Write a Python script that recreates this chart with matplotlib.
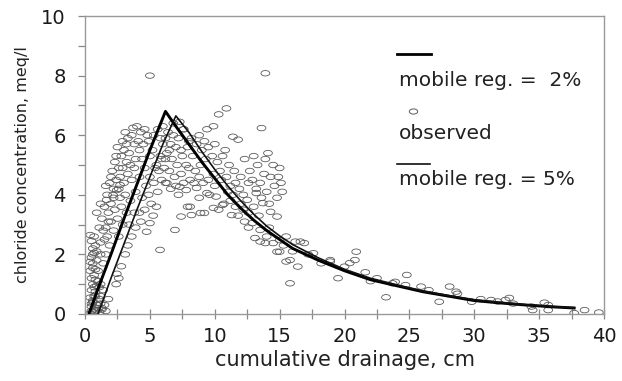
import matplotlib
matplotlib.use("Agg")
import matplotlib.pyplot as plt
from matplotlib.path import Path
from matplotlib.transforms import Affine2D
from matplotlib.ticker import MultipleLocator

# ---------------- data ----------------
# model curves
x_mob2 = [0.3, 1, 2, 3, 4, 5, 6.2, 7, 8, 9, 10, 11, 12, 13, 14, 15, 16, 18, 20,
          22, 24, 26, 28, 30, 32, 34, 36, 37.7]
y_mob2 = [0, 0.85, 2.0, 3.2, 4.35, 5.5, 6.8, 6.3, 5.7, 5.1, 4.55, 4.0, 3.55, 3.15,
          2.8, 2.5, 2.2, 1.8, 1.45, 1.15, 0.95, 0.75, 0.6, 0.45, 0.37, 0.3, 0.24, 0.2]

x_mob5 = [1.0, 2, 3, 4, 5, 6, 7.0, 8, 9, 10, 11, 12, 13, 14, 15, 16, 18, 20, 22,
          24, 26, 28, 30, 32, 34, 36, 37.7]
y_mob5 = [0, 1.2, 2.35, 3.5, 4.6, 5.7, 6.65, 6.1, 5.45, 4.85, 4.3, 3.8, 3.35, 2.95,
          2.62, 2.33, 1.88, 1.5, 1.2, 0.98, 0.78, 0.62, 0.48, 0.39, 0.31, 0.25, 0.21]

# observed points, grouped by region
obs_x_base = [0.4, 0.5, 0.6, 0.7, 0.5, 0.8, 0.6, 0.9, 0.4, 0.7, 1.0, 0.5, 0.8, 0.6, 0.9,
              1.1, 0.5, 0.7, 0.4, 0.8, 1.0, 0.6, 0.9, 0.5, 0.7, 1.2, 0.6, 0.8, 1.0, 0.5,
              0.7, 0.9, 0.4, 0.6, 1.1, 0.8, 0.5, 0.7, 0.9, 0.6, 1.3, 1.0, 0.8, 0.4, 0.6,
              1.1, 1.3, 1.2, 1.5, 1.4, 1.6, 1.2, 1.8]
obs_y_base = [0.02, 0.1, 0.05, 0.15, 0.25, 0.08, 0.4, 0.3, 0.55, 0.6, 0.2, 0.8, 0.75, 1.0, 0.95,
              0.5, 1.2, 1.3, 1.45, 1.5, 1.1, 1.7, 1.8, 1.9, 2.05, 0.35, 2.2, 2.3, 1.45, 2.45,
              2.6, 2.1, 2.65, 0.45, 0.9, 0.6, 0.35, 0.9, 0.12, 1.55, 0.15, 0.3, 1.15, 1.75, 2.0,
              0.05, 0.2, 0.6, 0.3, 0.8, 0.1, 1.0, 0.5]

obs_x_rise = [1.2, 1.4, 1.3, 1.6, 1.8, 1.5, 2.0, 1.7, 2.2, 1.9, 2.4, 2.1, 2.6, 2.3, 2.8, 2.5,
              3.0, 2.9, 3.3, 3.1, 3.6, 3.4, 3.8, 4.0, 4.3, 4.6, 4.1, 4.8, 3.7, 2.7, 2.2, 1.8,
              1.5, 1.1, 0.9, 1.2, 1.6, 2.0, 2.4, 2.9, 3.2, 3.5, 2.6, 2.3, 2.0, 1.7, 2.7, 3.0,
              3.3, 3.6, 3.9, 4.2, 4.5, 4.4, 3.8, 3.1, 2.8, 2.5, 2.2, 1.9, 1.6, 1.4, 1.2, 2.6,
              2.9, 3.2, 3.5, 3.9, 4.2, 4.6, 5.0, 4.9, 5.3, 5.6, 5.2, 2.45, 2.7, 2.16, 1.67, 3.2]
obs_y_rise = [2.4, 2.8, 3.2, 2.9, 3.4, 3.6, 3.7, 4.0, 4.2, 4.4, 4.5, 4.8, 4.9, 5.1, 5.3, 5.6,
              5.5, 5.8, 5.9, 6.1, 6.0, 5.4, 5.7, 6.3, 6.1, 6.2, 5.8, 6.0, 6.25, 4.6, 3.9, 3.1,
              2.5, 2.9, 3.4, 3.7, 4.3, 4.6, 5.3, 4.9, 5.1, 5.0, 4.2, 3.5, 3.1, 2.6, 3.9, 4.4,
              4.7, 4.5, 5.2, 5.5, 5.7, 5.2, 4.9, 4.0, 3.6, 3.2, 2.8, 2.3, 2.0, 1.7, 2.0, 2.6,
              3.0, 3.4, 3.8, 4.1, 4.6, 4.9, 5.3, 5.8, 6.0, 6.2, 5.5, 4.16, 4.33, 3.99, 3.83, 5.7]

obs_x_right = [2.4, 2.45, 2.6, 2.8, 3.1, 3.3, 3.6, 3.9, 4.3, 4.75, 5.0, 5.25, 5.1, 5.5, 5.6,
               5.9, 6.1, 4.6, 4.2, 4.9, 5.3, 5.7, 6.2, 6.5, 5.78, 6.93, 4.4, 4.7, 5.0, 5.4,
               5.8, 6.0, 3.4, 3.8]
obs_y_right = [1.0, 1.35, 1.2, 1.6, 2.0, 2.3, 2.6, 2.9, 3.1, 2.76, 3.05, 3.3, 3.7, 3.6, 4.1,
               4.5, 4.9, 3.5, 3.4, 4.0, 4.4, 4.8, 5.2, 5.5, 2.15, 2.82, 3.9, 4.3, 4.6, 4.9,
               5.3, 5.7, 3.0, 3.4]

obs_x_peak = [6.0, 6.4, 6.8, 7.2, 7.6, 7.0, 6.6, 6.3, 6.7, 7.1, 7.5, 7.9, 8.2, 8.6, 8.3, 7.8,
              7.4, 6.9, 6.5, 6.2, 6.6, 7.0, 7.3, 7.8, 8.6, 9.4, 10.1, 11.4, 8.1, 8.5, 8.9, 9.3,
              9.0, 9.5, 9.8, 10.2, 10.6, 10.4, 9.9, 9.5, 9.1, 8.8, 10.0, 10.5, 10.9, 11.2,
              11.6, 11.0, 11.9, 12.2, 12.5, 12.0, 11.6, 11.2, 10.7, 10.3, 9.9, 9.2, 8.2, 8.1,
              7.9, 8.9, 7.4, 10.6, 11.3, 6.3, 7.6, 8.0, 8.4, 7.2, 8.8, 9.6, 5.8, 6.2, 7.4, 8.0,
              8.8, 9.2, 10.0, 10.8, 11.1, 11.5, 12.0, 7.6, 9.4, 9.9, 10.3, 10.9, 11.4, 11.8,
              12.3, 12.7, 12.6, 6.8, 7.3, 5.5, 5.9]
obs_y_peak = [6.3, 6.1, 6.0, 5.9, 6.2, 5.6, 5.7, 5.4, 5.2, 5.0, 5.3, 5.6, 5.9, 5.7, 5.3, 5.0,
              4.7, 4.6, 4.8, 4.4, 4.2, 4.3, 4.27, 4.16, 4.23, 4.06, 3.94, 4.0, 4.5, 4.8, 5.0, 5.2,
              5.5, 5.6, 5.3, 5.1, 5.3, 4.8, 4.7, 4.5, 4.4, 4.6, 4.3, 4.5, 4.6, 4.3,
              4.4, 4.1, 4.2, 4.0, 3.83, 3.7, 3.6, 3.8, 3.7, 3.5, 3.56, 3.39, 3.32, 3.6,
              3.6, 3.39, 3.27, 3.66, 3.32, 4.4, 4.4, 4.9, 4.4, 4.0, 3.9, 4.0, 5.9, 5.9, 5.5, 5.8,
              6.0, 5.8, 5.7, 5.5, 5.0, 4.8, 4.6, 6.2, 6.2, 6.3, 6.7, 6.9, 5.95, 5.85,
              5.2, 4.8, 4.4, 6.4, 6.45, 5.0, 5.2]

obs_x_mid = [13.3, 13.9, 14.5, 15.0, 13.8, 14.3, 13.5, 14.6, 14.0, 15.1, 13.2, 14.8, 12.9,
             13.6, 14.2, 13.7, 14.3, 14.8, 13.2, 13.0, 12.6, 13.4, 12.2, 13.6, 13.9, 5.0,
             14.9, 13.0, 14.1, 15.2]
obs_y_mid = [5.0, 5.2, 5.0, 4.9, 4.7, 4.6, 4.4, 4.3, 4.1, 4.4, 4.2, 3.9, 4.5,
             3.9, 3.7, 3.72, 3.43, 3.27, 4.06, 3.6, 3.4, 3.3, 3.5, 6.24, 8.08, 8.0,
             4.6, 5.3, 5.4, 4.1]

obs_x_decay = [12.9, 13.5, 14.0, 14.5, 14.8, 15.0, 15.5, 16.6, 16.9, 15.8, 15.8, 13.1, 13.5,
               13.9, 15.5, 15.0, 16.2, 17.6, 16.4, 12.3, 11.8, 12.6, 14.2, 15.3, 16.0]
obs_y_decay = [3.05, 2.82, 2.6, 2.38, 2.09, 2.48, 2.6, 2.43, 2.38, 1.81, 1.03, 2.55, 2.43,
               2.38, 1.76, 2.09, 2.43, 2.04, 1.59, 3.1, 3.3, 2.9, 2.9, 2.3, 2.1]

obs_x_tail = [18.9, 18.9, 20.0, 20.4, 20.8, 20.9, 19.5, 22.5, 23.2, 23.9, 23.7, 24.8, 24.7,
              25.9, 27.3, 28.1, 28.6, 28.7, 29.8, 31.3, 31.8, 32.4, 32.7, 34.4, 34.5, 35.4,
              35.7, 35.7, 37.7, 38.5, 39.6, 21.6, 17.2, 18.2, 22.0, 26.5, 30.5, 33.0]
obs_y_tail = [1.81, 1.76, 1.59, 1.71, 1.81, 2.09, 1.2, 1.2, 0.56, 1.08, 1.03, 1.31, 0.97,
              0.92, 0.41, 0.92, 0.75, 0.68, 0.41, 0.47, 0.42, 0.47, 0.54, 0.25, 0.13, 0.38,
              0.3, 0.13, 0.03, 0.13, 0.05, 1.4, 2.0, 1.7, 1.1, 0.8, 0.5, 0.35]

x_ticks = [0, 5, 10, 15, 20, 25, 30, 35, 40]
y_ticks = [0, 2, 4, 6, 8, 10]
label_mob2 = "mobile reg. =  2%"
label_obs = "observed"
label_mob5 = "mobile reg. = 5%"

# ---------------- plot ----------------
obs_x = (obs_x_base + obs_x_rise + obs_x_right + obs_x_peak + obs_x_mid
         + obs_x_decay + obs_x_tail)
obs_y = (obs_y_base + obs_y_rise + obs_y_right + obs_y_peak + obs_y_mid
         + obs_y_decay + obs_y_tail)

ellipse = Path.unit_circle().transformed(Affine2D().scale(1.0, 0.62))

fig = plt.figure(figsize=(6.22, 3.81), dpi=100)
ax = fig.add_axes([0.1367, 0.1759, 0.8344, 0.782])

ax.scatter(obs_x, obs_y, marker=ellipse, s=40, facecolors="none",
           edgecolors="#5a5a5a", linewidths=0.6, zorder=2)
ax.plot(x_mob2, y_mob2, color="black", lw=2.1, zorder=3)
ax.plot(x_mob5, y_mob5, color="#111111", lw=1.2, zorder=3)

ax.set_xlim(0, 40)
ax.set_ylim(0, 10)
ax.set_xticks(x_ticks)
ax.set_yticks(y_ticks)
ax.xaxis.set_minor_locator(MultipleLocator(2.5))
ax.yaxis.set_minor_locator(MultipleLocator(1))
ax.tick_params(axis="x", which="both", direction="inout", length=7, width=0.9,
               color="#888888", labelsize=14, pad=6, labelcolor="#1a1a1a")
ax.tick_params(axis="y", which="both", direction="out", length=5, width=0.9,
               color="#888888", labelsize=14, pad=9, labelcolor="#1a1a1a")
for side in ["left", "bottom", "top", "right"]:
    ax.spines[side].set_color("#999999")
    ax.spines[side].set_linewidth(1.0)

ax.set_xlabel("cumulative drainage, cm", fontsize=15, color="#222222", labelpad=3)
ax.set_ylabel("chloride concentration, meq/l", fontsize=11.5, color="#222222", labelpad=8)

# legend built in axes fraction coordinates
tr = ax.transAxes
ax.plot([0.601, 0.667], [0.872, 0.872], color="black", lw=2.0, transform=tr, clip_on=False)
ax.text(0.605, 0.785, label_mob2, transform=tr, fontsize=14.5, va="center", ha="left",
        color="#222222")
ax.plot([0.632], [0.681], linestyle="none", marker=ellipse, markersize=6,
        markerfacecolor="none", markeredgecolor="#5a5a5a", markeredgewidth=0.7,
        transform=tr, clip_on=False)
ax.text(0.605, 0.607, label_obs, transform=tr, fontsize=14.5, va="center", ha="left",
        color="#222222")
ax.plot([0.601, 0.665], [0.503, 0.503], color="#111111", lw=1.2, transform=tr, clip_on=False)
ax.text(0.605, 0.450, label_mob5, transform=tr, fontsize=14.5, va="center", ha="left",
        color="#222222")

fig.savefig("out.png", dpi=100)
